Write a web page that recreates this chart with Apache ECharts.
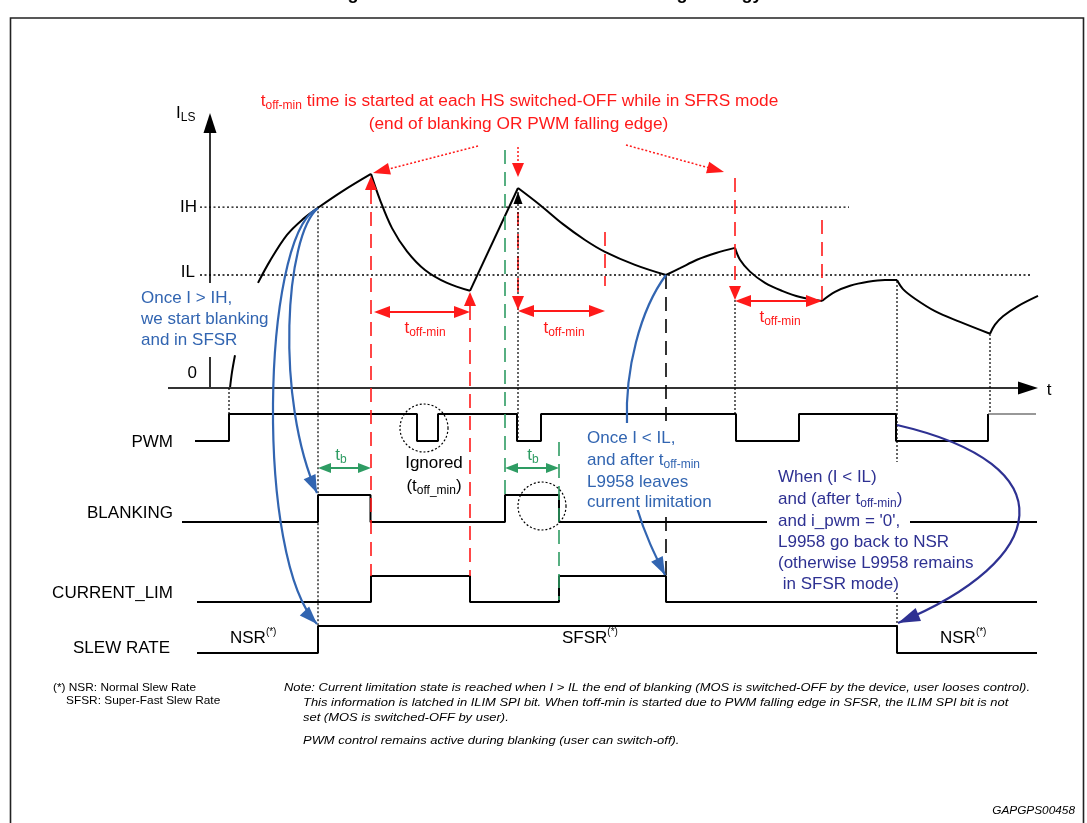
<!DOCTYPE html>
<html>
<head>
<meta charset="utf-8">
<title>Current limitation and blanking strategy</title>
<script src="https://cdn.jsdelivr.net/npm/echarts@6/dist/echarts.min.js"></script>
<style>
html,body{margin:0;padding:0;background:#ffffff;}
#chart{width:1087px;height:823px;}
</style>
</head>
<body>
<div id="chart"></div>
<script>
// ===================== DATA =====================
// time in arbitrary units; current I_LS in arbitrary units (IL = 2.0, IH = 3.2)
const TIME_RANGE = [-21, 87.7];
const CURRENT_RANGE = [0, 5];
const IL = 2.0;
const IH = 3.2;

// I_LS waveform, one array per exponential segment
const curRiseStart = [[2.0,0],[2.2,0.28],[2.5,0.58]];
const curRise1 = [[4.8,1.86],[6.0,2.25],[7.7,2.71],[9.3,2.99],[10.8,3.19],[13.3,3.49],[16.1,3.79]];
const curFall1 = [[16.1,3.79],[17.0,3.33],[18.2,2.83],[19.7,2.42],[21.5,2.09],[23.7,1.86],[26.0,1.72]];
const curRise2 = [[26.0,1.72],[30.8,3.54]];
const curFall2 = [[30.8,3.54],[33.0,3.24],[35.3,2.90],[37.5,2.62],[39.5,2.41],[42.5,2.18],[45.6,2.0]];
const curRise3 = [[45.6,2.0],[47.0,2.12],[48.7,2.27],[50.6,2.39],[52.5,2.48]];
const curFall3 = [[52.5,2.48],[53.0,2.27],[54.0,2.06],[55.5,1.86],[57.2,1.72],[59.0,1.61],[61.2,1.54]];
const curRise4 = [[61.2,1.54],[62.5,1.70],[64.0,1.81],[65.8,1.88],[67.5,1.91],[68.7,1.91]];
const curFall4 = [[68.7,1.91],[69.3,1.75],[70.5,1.58],[72.5,1.36],[75.0,1.17],[78.0,0.96]];
const curRise5 = [[78.0,0.96],[78.5,1.12],[79.3,1.27],[80.8,1.45],[82.8,1.63]];

// digital signals: [time, level] – level holds until next time
const pwmLevels = [[-1.5,0],[1.9,1],[20.7,0],[22.8,1],[30.7,0],[33.1,1],[52.6,0],[58.9,1],[68.6,0],[77.8,1]];
const pwmTail = [[77.8,1],[82.6,1]];
const blankingLevels = [[-2.8,0],[10.8,1],[16.05,0],[29.5,1],[34.9,0],[55.7,0]];
const blankingLevelsTail = [[70.0,0],[82.7,0]];
const currentLimLevels = [[-1.3,0],[16.1,1],[26.0,0],[34.9,1],[45.6,0],[82.7,0]];
const slewRateLevels = [[-1.3,0],[10.8,1],[68.7,0],[82.7,0]];

// event times
const T_PWM_ON = 1.9, T_IH = 10.8, T_OFF1 = 16.1, T_END1 = 26.0, T_BLANK2 = 29.5,
      T_OFF2 = 30.8, T_BLANK2_END = 34.9, T_TOFF2_END = 39.5, T_IL = 45.6,
      T_OFF3 = 52.5, T_TOFF3_END = 61.2, T_NSR = 68.7, T_PWM_ON3 = 78.0;

// texts
const signalLabels = ['PWM','BLANKING','CURRENT_LIM','SLEW RATE'];
const TITLE = 'Figure 16. Current limitation and blanking strategy';
const redTitle1 = ' time is started at each HS switched-OFF while in SFRS mode';
const redTitle2 = '(end of blanking OR PWM falling edge)';
const blueNote1 = ['Once I > IH,','we start blanking','and in SFSR'];
const blueNote2 = ['Once I < IL,','and after t','L9958 leaves','current limitation'];
const navyNote = ['When (I < IL)','and (after t',"and i_pwm = '0',",'L9958 go back to NSR','(otherwise L9958 remains',' in SFSR mode)'];
const footStar = ['(*) NSR: Normal Slew Rate','SFSR: Super-Fast Slew Rate'];
const footNote = [
 'Note: Current limitation state is reached when I > IL the end of blanking (MOS is switched-OFF by the device, user looses control).',
 'This information is latched in ILIM SPI bit. When toff-min is started due to PWM falling edge in SFSR, the ILIM SPI bit is not',
 'set (MOS is switched-OFF by user).',
 'PWM control remains active during blanking (user can switch-off).'
];
const DOC_ID = 'GAPGPS00458';

// ===================== CHART =====================
const chart = echarts.init(document.getElementById('chart'), null, {renderer:'canvas', width:1087, height:823});
const FONT = '"Liberation Sans", Arial, Helvetica, sans-serif';
const RED = '#ff1a1a', GREEN = '#2e9c63', BLUE = '#3265b1', NAVY = '#2e3192';

const grids = [
  {left:0, width:1087, top:105.5, height:282.5, outerBoundsMode:'none'},
  {left:0, width:1087, top:414, height:27, outerBoundsMode:'none'},
  {left:0, width:1087, top:495, height:27, outerBoundsMode:'none'},
  {left:0, width:1087, top:576, height:26, outerBoundsMode:'none'},
  {left:0, width:1087, top:626, height:27, outerBoundsMode:'none'}
];
const xAxes = grids.map((g,i)=>({type:'value', gridIndex:i, min:TIME_RANGE[0], max:TIME_RANGE[1], show:false}));
const yAxes = grids.map((g,i)=>({type:'value', gridIndex:i, min:i===0?CURRENT_RANGE[0]:0, max:i===0?CURRENT_RANGE[1]:1, show:false}));

const curSegments = [curRiseStart,curRise1,curFall1,curRise2,curFall2,curRise3,curFall3,curRise4,curFall4,curRise5];
const series = curSegments.map(d=>({type:'line', xAxisIndex:0, yAxisIndex:0, data:d, smooth:0.35,
  symbol:'none', clip:false, silent:true, lineStyle:{color:'#000', width:2}, z:5}));
const lanes = [[pwmLevels],[blankingLevels,blankingLevelsTail],[currentLimLevels],[slewRateLevels]];
lanes.forEach((arrs,k)=>arrs.forEach(d=>series.push({type:'line', xAxisIndex:k+1, yAxisIndex:k+1, data:d,
  step:'end', symbol:'none', clip:false, silent:true, lineStyle:{color:'#000', width:2}, z:5})));
series.push({type:'line', xAxisIndex:1, yAxisIndex:1, data:pwmTail, symbol:'none', clip:false, silent:true,
  lineStyle:{color:'#333', width:1.2}, z:5});

chart.setOption({animation:false, backgroundColor:'#fff', grid:grids, xAxis:xAxes, yAxis:yAxes, series:series});

// ===================== DECORATION (computed from scales) =====================
const P = (g,t,v)=>chart.convertToPixel({gridIndex:g},[t,v]);
const X = t => P(0,t,0)[0];
const YC = v => P(0,0,v)[1];
const YL = (k,v) => P(k,0,v)[1];
const EL = [];
function line(x1,y1,x2,y2,color,w,dash,z){EL.push({type:'line',silent:true,z:z||20,shape:{x1:x1,y1:y1,x2:x2,y2:y2},style:{stroke:color,lineWidth:w,lineDash:dash||null,fill:null}});}
function head(tx,ty,dx,dy,len,wid,color,z){const L=Math.hypot(dx,dy),ux=dx/L,uy=dy/L,bx=tx-ux*len,by=ty-uy*len,nx=-uy*wid/2,ny=ux*wid/2;
  EL.push({type:'polygon',silent:true,z:z||30,shape:{points:[[tx,ty],[bx+nx,by+ny],[bx-nx,by-ny]]},style:{fill:color,stroke:null}});}
function arrowTo(x1,y1,x2,y2,color,w,dash,len,wid){const L=Math.hypot(x2-x1,y2-y1);const ex=x2-(x2-x1)/L*len*0.8, ey=y2-(y2-y1)/L*len*0.8;line(x1,y1,ex,ey,color,w,dash);head(x2,y2,x2-x1,y2-y1,len,wid,color);}
function dblArrow(x1,x2,y,color,w,len,wid){line(x1+len*0.8,y,x2-len*0.8,y,color,w);head(x1,y,-1,0,len,wid,color);head(x2,y,1,0,len,wid,color);}
function curve(p,color,w,len,wid){EL.push({type:'bezierCurve',silent:true,z:25,shape:{x1:p[0][0],y1:p[0][1],cpx1:p[1][0],cpy1:p[1][1],cpx2:p[2][0],cpy2:p[2][1],x2:p[3][0],y2:p[3][1]},style:{stroke:color,lineWidth:w,fill:null}});
  if(len) head(p[3][0],p[3][1],p[3][0]-p[2][0],p[3][1]-p[2][1],len,wid,color,26);}
const mctx = document.createElement('canvas').getContext('2d');
function fnt(size,style){return (style?style+' ':'')+size+'px '+FONT;}
function measure(s,font){mctx.font=font;return mctx.measureText(s).width;}
function text(x,y,s,font,color,align,extra){EL.push(Object.assign({type:'text',silent:true,z:40,x:x,y:y,
  style:{text:s,font:font,fill:color||'#000',align:align||'left',textAlign:align||'left',verticalAlign:'middle',textVerticalAlign:'middle'}},extra||{}));}
function runs(x,y,pieces,color,align){const ws=pieces.map(p=>measure(p[0],fnt(p[1])));const tot=ws.reduce((a,b)=>a+b,0);
  let cx = align==='center'? x-tot/2 : align==='right'? x-tot : x;
  pieces.forEach((p,i)=>{text(cx,y+(p[2]||0),p[0],fnt(p[1]),color,'left');cx+=ws[i];});}

const y0 = YC(0), yIL = YC(IL), yIH = YC(IH);

// frame + (clipped) title
EL.push({type:'rect',silent:true,z:1,shape:{x:10.5,y:18,width:1073,height:840},style:{stroke:'#222',lineWidth:1.6,fill:null}});
text(547,-6,TITLE,fnt(18,'bold'),'#000','center');

// axes
line(X(0),283,X(0),130,'#000',1.6); head(X(0),113,0,-1,20,13,'#000');
line(X(0),357,X(0),y0,'#000',1.6);
line(168,y0,1022,y0,'#333',2); head(1038,y0,1,0,20,13,'#000');
line(200,yIH,X(63.9),yIH,'#000',1.3,[2,2.5]);
line(200,yIL,X(82.2),yIL,'#000',1.3,[2,2.5]);
runs(176,113,[['I',17],['LS',12,5]],'#000','left');
text(197,yIH,'IH',fnt(17),'#000','right');
text(195,yIL-3,'IL',fnt(17),'#000','right');
text(197,373,'0',fnt(17),'#000','right');
text(1049,390,'t',fnt(17),'#000','center');

// red header text
runs(519.5,101,[['t',17.3],['off-min',12,5],[redTitle1,17.3]],RED,'center');
text(518.5,124,redTitle2,fnt(17.3),RED,'center');

// red dotted pointer arrows
arrowTo(478,146,373,173,RED,1.5,[2,2],17,12);
arrowTo(626,145,724,172,RED,1.5,[2,2],17,12);
arrowTo(X(T_OFF2),147,X(T_OFF2),177,RED,1.5,[2,2],14,12);

// red dashed verticals and arrowheads
head(X(T_OFF1),176,0,-1,14,12,RED);
head(X(T_END1),292,0,-1,14,12,RED);
line(X(T_OFF1),190,X(T_OFF1),YL(3,1),RED,1.6,[14,8]);
line(X(T_END1),306,X(T_END1),YL(3,1),RED,1.6,[14,8]);
arrowTo(X(T_OFF2),212,X(T_OFF2),310,RED,1.6,[14,8],14,12);
line(X(T_TOFF2_END),232,X(T_TOFF2_END),286,RED,1.6,[14,8]);
arrowTo(X(T_OFF3),178,X(T_OFF3),300,RED,1.6,[14,8],14,12);
line(X(T_TOFF3_END),220,X(T_TOFF3_END),302,RED,1.6,[14,8]);

// toff-min arrows + labels
dblArrow(X(T_OFF1)+3,X(T_END1),312,RED,2,16,12);
dblArrow(X(T_OFF2),X(T_TOFF2_END),311,RED,2,16,12);
dblArrow(X(T_OFF3),X(T_TOFF3_END),301,RED,2,16,12);
runs(425,328,[['t',17],['off-min',12,5]],RED,'center');
runs(564,328,[['t',17],['off-min',12,5]],RED,'center');
runs(780,317,[['t',17],['off-min',12,5]],RED,'center');

// black dotted / dashed verticals
head(X(T_OFF2),192,0,-1,12,9,'#000');
const DOT=[2,2];
line(X(T_PWM_ON),y0,X(T_PWM_ON),YL(1,1),'#000',1.2,DOT);
line(X(T_IH),yIH,X(T_IH),YL(4,1),'#000',1.2,DOT);
line(X(T_OFF2),192,X(T_OFF2),YL(1,0),'#000',1.2,DOT);
line(X(T_OFF3),300,X(T_OFF3),YL(1,1),'#000',1.2,DOT);
line(X(T_NSR),281,X(T_NSR),462,'#000',1.2,DOT);
line(X(T_NSR),593,X(T_NSR),YL(4,1),'#000',1.2,DOT);
line(X(T_PWM_ON3),334,X(T_PWM_ON3),YL(1,1),'#000',1.2,DOT);
line(X(T_IL),yIL,X(T_IL),YL(3,0),'#000',1.6,[14,8]);

// green blanking markers
line(X(T_BLANK2),150,X(T_BLANK2),YL(2,1),GREEN,1.6,[14,8]);
line(X(T_BLANK2_END),442,X(T_BLANK2_END),600,GREEN,1.6,[14,8]);
dblArrow(X(T_IH),X(T_OFF1),468,GREEN,2,13,10);
dblArrow(X(T_BLANK2),X(T_BLANK2_END),468,GREEN,2,13,10);
runs(341,455,[['t',17],['b',12,5]],GREEN,'center');
runs(533,455,[['t',17],['b',12,5]],GREEN,'center');

// dotted circles
EL.push({type:'circle',silent:true,z:20,shape:{cx:424,cy:428,r:24},style:{stroke:'#000',lineWidth:1.2,lineDash:[2,2],fill:null}});
EL.push({type:'circle',silent:true,z:20,shape:{cx:542,cy:506,r:24},style:{stroke:'#000',lineWidth:1.2,lineDash:[2,2],fill:null}});

// white box behind the "Once I < IL" note (hides the dashed marker there)
EL.push({type:'rect',silent:true,z:35,shape:{x:584,y:427,width:130,height:83},style:{fill:'#fff',stroke:null}});

// blue / navy curved arrows
curve([[X(T_IH),yIH+1],[285,235],[275,400],[X(T_IH)-1,YL(2,1)-2]],BLUE,2.2,18,13);
curve([[X(T_IH)-2,yIH+2],[262,240],[255,560],[X(T_IH)-1,YL(4,1)-2]],BLUE,2.2,18,13);
curve([[X(T_IL),yIL],[640,310],[625,370],[627,423]],BLUE,2.2,0,0);
curve([[637,508],[645,535],[655,555],[X(T_IL)-1,YL(3,1)-1]],BLUE,2.2,18,13);
curve([[X(T_NSR),425],[1070,465],[1050,560],[X(T_NSR)+1,YL(4,1)-3]],NAVY,2.2,22,14);

// texts
blueNote1.forEach((s,i)=>text(141,298+i*21,s,fnt(17),BLUE,'left'));
const laneLabelY=[442,513,593,648], laneLabelX=[173,173,173,170];
signalLabels.forEach((s,i)=>text(laneLabelX[i],laneLabelY[i],s,fnt(17),'#000','right'));
runs(230,638,[['NSR',17],['(*)',10,-6]],'#000','left');
runs(562,638,[['SFSR',17],['(*)',10,-6]],'#000','left');
runs(940,638,[['NSR',17],['(*)',10,-6]],'#000','left');
text(434,463,'Ignored',fnt(17),'#000','center');
runs(434,486,[['(t',17],['off_min',12,5],[')',17]],'#000','center');

text(587,438,blueNote2[0],fnt(17),BLUE,'left');
runs(587,460,[[blueNote2[1],17],['off-min',12,5]],BLUE,'left');
text(587,482,blueNote2[2],fnt(17),BLUE,'left');
text(587,502,blueNote2[3],fnt(17),BLUE,'left');

const navyY=[477,499,521,542,563,584];
navyNote.forEach((s,i)=>{
  if(i===1) runs(778,navyY[i],[[s,17],['off-min',12,5],[')',17]],NAVY,'left');
  else text(778,navyY[i],s,fnt(17),NAVY,'left');
});

// footnotes (narrow look via horizontal scale)
const fnI = fnt(11.5,'italic'), fnR = fnt(11.5);
const sI = 746/measure(footNote[0],fnI);
const sR = 143/measure(footStar[0],fnR);
text(53,688,footStar[0],fnR,'#000','left',{scaleX:sR});
text(66,701,footStar[1],fnR,'#000','left',{scaleX:sR});
text(284,688,footNote[0],fnI,'#000','left',{scaleX:sI});
text(303,703,footNote[1],fnI,'#000','left',{scaleX:sI});
text(303,718,footNote[2],fnI,'#000','left',{scaleX:sI});
text(303,741,footNote[3],fnI,'#000','left',{scaleX:sI});
text(1075,811,DOC_ID,fnt(10.5,'italic'),'#000','right',{scaleX:sI});

chart.setOption({graphic:{elements:EL}});
</script>
</body>
</html>
